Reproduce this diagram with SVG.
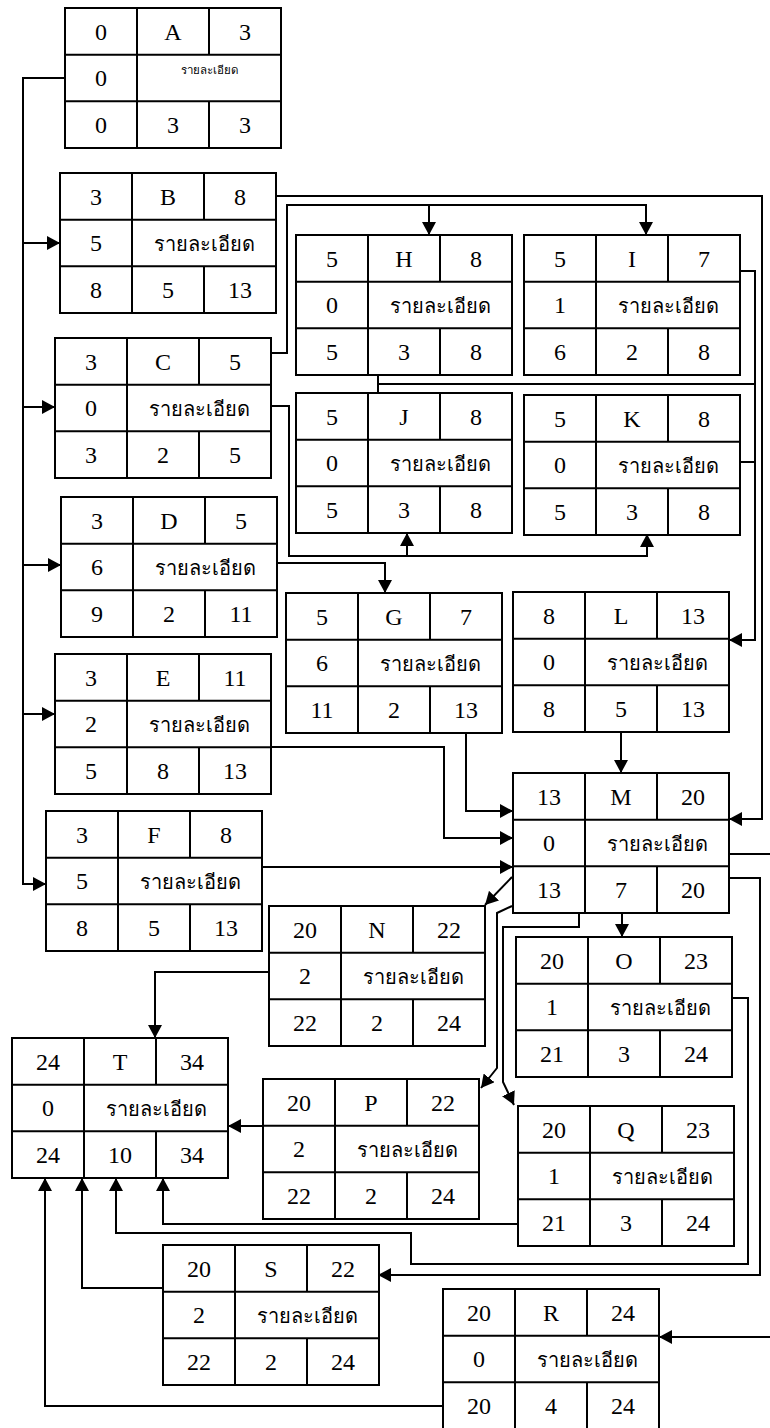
<svg xmlns="http://www.w3.org/2000/svg" width="770" height="1428" viewBox="0 0 770 1428">
<style>
.t{font-size:24px;text-anchor:middle;fill:#000}
.th{font-size:20px;text-anchor:middle;fill:#000}
.sm{font-size:11.5px}
.c{fill:none;stroke:#000;stroke-width:2}
.a{marker-end:url(#ah)}
</style>
<defs>
<marker id="ah" markerUnits="userSpaceOnUse" markerWidth="14" markerHeight="14" refX="13" refY="7" orient="auto">
<path d="M0,0 L13,7 L0,14 z" fill="#000"/>
</marker>
<g id="grid">
<rect x="0" y="0" width="216" height="140" fill="#fff" stroke="#000" stroke-width="2"/>
<path d="M0,46.7 H216 M0,93.3 H216 M72,0 V140 M144,0 V46.7 M144,93.3 V140" fill="none" stroke="#000" stroke-width="2"/>
</g>
</defs>
<rect width="770" height="1428" fill="#fff"/>

<g id="connectors">
<path class="c a" d="M65,78 H23 V884 H46"/>
<path class="c a" d="M23,243 H60"/>
<path class="c a" d="M23,407 H55"/>
<path class="c a" d="M23,565 H61"/>
<path class="c a" d="M23,714 H55"/>
<path class="c a" d="M276,196 H762 V819 H729"/>
<path class="c a" d="M271,353 H287 V205 H646 V235"/>
<path class="c a" d="M429,205 V235"/>
<path class="c a" d="M271,406 H289 V556 H647 V534"/>
<path class="c a" d="M407,556 V533"/>
<path class="c a" d="M276,563 H385 V593"/>
<path class="c" d="M378,373 V393 M378,384 H755 M740,462 H755"/>
<path class="c a" d="M740,271 H755 V640 H729"/>
<path class="c a" d="M621,732 V773"/>
<path class="c a" d="M466,733 V811 H513"/>
<path class="c a" d="M271,747 H444 V838 H513"/>
<path class="c a" d="M261,867 H513"/>
<path class="c a" d="M512,877 L485,905"/>
<path class="c a" d="M512,906 L497,913 V1068 L481,1088"/>
<path class="c a" d="M579,912 V927 H503 V1082 L514,1105"/>
<path class="c a" d="M622,912 V937"/>
<path class="c a" d="M729,854 H772 V1337 H659"/>
<path class="c a" d="M729,878 H760 V1275 H378"/>
<path class="c a" d="M731,998 H748 V1264 H411 V1233 H116 V1178"/>
<path class="c a" d="M518,1224 H163 V1178"/>
<path class="c a" d="M263,1126 H228"/>
<path class="c a" d="M269,972 H155 V1038"/>
<path class="c a" d="M163,1288 H82 V1178"/>
<path class="c a" d="M443,1406 H45 V1178"/>
</g>

<g id="nodes" font-family="Liberation Serif, Times New Roman, serif">
<g id="node-A" transform="translate(65,8)"><use href="#grid"/>
<text class="t" x="36" y="31.5">0</text><text class="t" x="108" y="31.5">A</text><text class="t" x="180" y="31.5">3</text>
<text class="t" x="36" y="78">0</text><text class="th sm" x="144" y="66">รายละเอียด</text>
<text class="t" x="36" y="125">0</text><text class="t" x="108" y="125">3</text><text class="t" x="180" y="125">3</text></g>

<g id="node-B" transform="translate(60,173)"><use href="#grid"/>
<text class="t" x="36" y="31.5">3</text><text class="t" x="108" y="31.5">B</text><text class="t" x="180" y="31.5">8</text>
<text class="t" x="36" y="78">5</text><text class="th" x="144" y="78">รายละเอียด</text>
<text class="t" x="36" y="125">8</text><text class="t" x="108" y="125">5</text><text class="t" x="180" y="125">13</text></g>

<g id="node-C" transform="translate(55,338)"><use href="#grid"/>
<text class="t" x="36" y="31.5">3</text><text class="t" x="108" y="31.5">C</text><text class="t" x="180" y="31.5">5</text>
<text class="t" x="36" y="78">0</text><text class="th" x="144" y="78">รายละเอียด</text>
<text class="t" x="36" y="125">3</text><text class="t" x="108" y="125">2</text><text class="t" x="180" y="125">5</text></g>

<g id="node-D" transform="translate(61,497)"><use href="#grid"/>
<text class="t" x="36" y="31.5">3</text><text class="t" x="108" y="31.5">D</text><text class="t" x="180" y="31.5">5</text>
<text class="t" x="36" y="78">6</text><text class="th" x="144" y="78">รายละเอียด</text>
<text class="t" x="36" y="125">9</text><text class="t" x="108" y="125">2</text><text class="t" x="180" y="125">11</text></g>

<g id="node-E" transform="translate(55,654)"><use href="#grid"/>
<text class="t" x="36" y="31.5">3</text><text class="t" x="108" y="31.5">E</text><text class="t" x="180" y="31.5">11</text>
<text class="t" x="36" y="78">2</text><text class="th" x="144" y="78">รายละเอียด</text>
<text class="t" x="36" y="125">5</text><text class="t" x="108" y="125">8</text><text class="t" x="180" y="125">13</text></g>

<g id="node-F" transform="translate(46,811)"><use href="#grid"/>
<text class="t" x="36" y="31.5">3</text><text class="t" x="108" y="31.5">F</text><text class="t" x="180" y="31.5">8</text>
<text class="t" x="36" y="78">5</text><text class="th" x="144" y="78">รายละเอียด</text>
<text class="t" x="36" y="125">8</text><text class="t" x="108" y="125">5</text><text class="t" x="180" y="125">13</text></g>

<g id="node-G" transform="translate(286,593)"><use href="#grid"/>
<text class="t" x="36" y="31.5">5</text><text class="t" x="108" y="31.5">G</text><text class="t" x="180" y="31.5">7</text>
<text class="t" x="36" y="78">6</text><text class="th" x="144" y="78">รายละเอียด</text>
<text class="t" x="36" y="125">11</text><text class="t" x="108" y="125">2</text><text class="t" x="180" y="125">13</text></g>

<g id="node-H" transform="translate(296,235)"><use href="#grid"/>
<text class="t" x="36" y="31.5">5</text><text class="t" x="108" y="31.5">H</text><text class="t" x="180" y="31.5">8</text>
<text class="t" x="36" y="78">0</text><text class="th" x="144" y="78">รายละเอียด</text>
<text class="t" x="36" y="125">5</text><text class="t" x="108" y="125">3</text><text class="t" x="180" y="125">8</text></g>

<g id="node-I" transform="translate(524,235)"><use href="#grid"/>
<text class="t" x="36" y="31.5">5</text><text class="t" x="108" y="31.5">I</text><text class="t" x="180" y="31.5">7</text>
<text class="t" x="36" y="78">1</text><text class="th" x="144" y="78">รายละเอียด</text>
<text class="t" x="36" y="125">6</text><text class="t" x="108" y="125">2</text><text class="t" x="180" y="125">8</text></g>

<g id="node-J" transform="translate(296,393)"><use href="#grid"/>
<text class="t" x="36" y="31.5">5</text><text class="t" x="108" y="31.5">J</text><text class="t" x="180" y="31.5">8</text>
<text class="t" x="36" y="78">0</text><text class="th" x="144" y="78">รายละเอียด</text>
<text class="t" x="36" y="125">5</text><text class="t" x="108" y="125">3</text><text class="t" x="180" y="125">8</text></g>

<g id="node-K" transform="translate(524,395)"><use href="#grid"/>
<text class="t" x="36" y="31.5">5</text><text class="t" x="108" y="31.5">K</text><text class="t" x="180" y="31.5">8</text>
<text class="t" x="36" y="78">0</text><text class="th" x="144" y="78">รายละเอียด</text>
<text class="t" x="36" y="125">5</text><text class="t" x="108" y="125">3</text><text class="t" x="180" y="125">8</text></g>

<g id="node-L" transform="translate(513,592)"><use href="#grid"/>
<text class="t" x="36" y="31.5">8</text><text class="t" x="108" y="31.5">L</text><text class="t" x="180" y="31.5">13</text>
<text class="t" x="36" y="78">0</text><text class="th" x="144" y="78">รายละเอียด</text>
<text class="t" x="36" y="125">8</text><text class="t" x="108" y="125">5</text><text class="t" x="180" y="125">13</text></g>

<g id="node-M" transform="translate(513,773)"><use href="#grid"/>
<text class="t" x="36" y="31.5">13</text><text class="t" x="108" y="31.5">M</text><text class="t" x="180" y="31.5">20</text>
<text class="t" x="36" y="78">0</text><text class="th" x="144" y="78">รายละเอียด</text>
<text class="t" x="36" y="125">13</text><text class="t" x="108" y="125">7</text><text class="t" x="180" y="125">20</text></g>

<g id="node-N" transform="translate(269,906)"><use href="#grid"/>
<text class="t" x="36" y="31.5">20</text><text class="t" x="108" y="31.5">N</text><text class="t" x="180" y="31.5">22</text>
<text class="t" x="36" y="78">2</text><text class="th" x="144" y="78">รายละเอียด</text>
<text class="t" x="36" y="125">22</text><text class="t" x="108" y="125">2</text><text class="t" x="180" y="125">24</text></g>

<g id="node-O" transform="translate(516,937)"><use href="#grid"/>
<text class="t" x="36" y="31.5">20</text><text class="t" x="108" y="31.5">O</text><text class="t" x="180" y="31.5">23</text>
<text class="t" x="36" y="78">1</text><text class="th" x="144" y="78">รายละเอียด</text>
<text class="t" x="36" y="125">21</text><text class="t" x="108" y="125">3</text><text class="t" x="180" y="125">24</text></g>

<g id="node-P" transform="translate(263,1079)"><use href="#grid"/>
<text class="t" x="36" y="31.5">20</text><text class="t" x="108" y="31.5">P</text><text class="t" x="180" y="31.5">22</text>
<text class="t" x="36" y="78">2</text><text class="th" x="144" y="78">รายละเอียด</text>
<text class="t" x="36" y="125">22</text><text class="t" x="108" y="125">2</text><text class="t" x="180" y="125">24</text></g>

<g id="node-Q" transform="translate(518,1106)"><use href="#grid"/>
<text class="t" x="36" y="31.5">20</text><text class="t" x="108" y="31.5">Q</text><text class="t" x="180" y="31.5">23</text>
<text class="t" x="36" y="78">1</text><text class="th" x="144" y="78">รายละเอียด</text>
<text class="t" x="36" y="125">21</text><text class="t" x="108" y="125">3</text><text class="t" x="180" y="125">24</text></g>

<g id="node-R" transform="translate(443,1289)"><use href="#grid"/>
<text class="t" x="36" y="31.5">20</text><text class="t" x="108" y="31.5">R</text><text class="t" x="180" y="31.5">24</text>
<text class="t" x="36" y="78">0</text><text class="th" x="144" y="78">รายละเอียด</text>
<text class="t" x="36" y="125">20</text><text class="t" x="108" y="125">4</text><text class="t" x="180" y="125">24</text></g>

<g id="node-S" transform="translate(163,1245)"><use href="#grid"/>
<text class="t" x="36" y="31.5">20</text><text class="t" x="108" y="31.5">S</text><text class="t" x="180" y="31.5">22</text>
<text class="t" x="36" y="78">2</text><text class="th" x="144" y="78">รายละเอียด</text>
<text class="t" x="36" y="125">22</text><text class="t" x="108" y="125">2</text><text class="t" x="180" y="125">24</text></g>

<g id="node-T" transform="translate(12,1038)"><use href="#grid"/>
<text class="t" x="36" y="31.5">24</text><text class="t" x="108" y="31.5">T</text><text class="t" x="180" y="31.5">34</text>
<text class="t" x="36" y="78">0</text><text class="th" x="144" y="78">รายละเอียด</text>
<text class="t" x="36" y="125">24</text><text class="t" x="108" y="125">10</text><text class="t" x="180" y="125">34</text></g>
</g>
</svg>
